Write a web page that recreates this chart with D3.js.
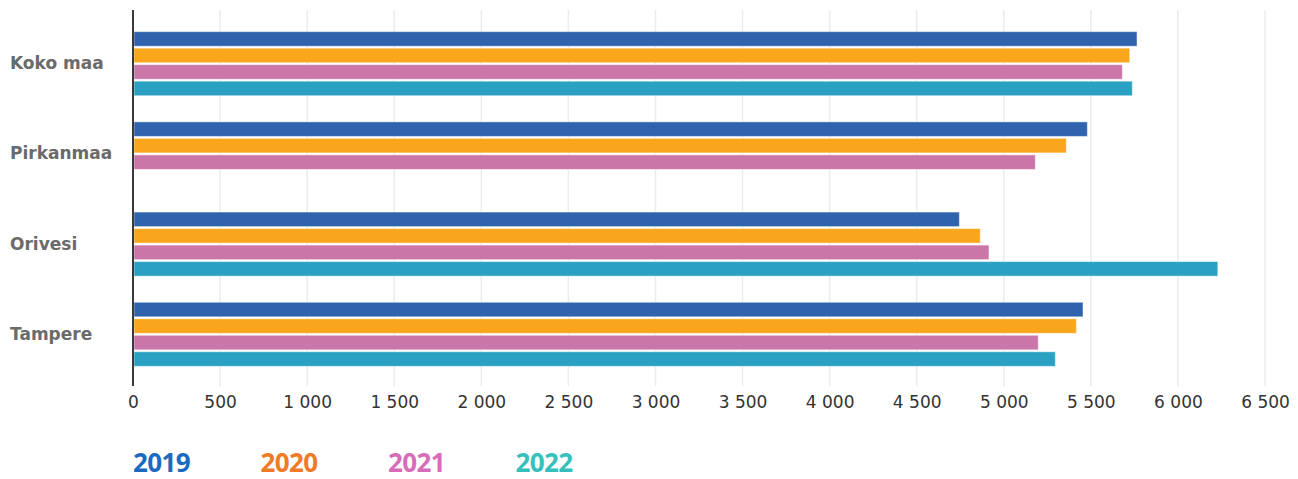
<!DOCTYPE html>
<html>
<head>
<meta charset="utf-8">
<script src="https://cdn.jsdelivr.net/npm/d3@7"></script>
<style>
  body { margin: 0; background: #fff; }
  svg { display: block; }
</style>
</head>
<body>
<div id="chart"></div>
<script>
var width = 1298;
var height = 479;

// data
var categories = ["Koko maa", "Pirkanmaa", "Orivesi", "Tampere"];
var years = ["2019", "2020", "2021", "2022"];
var values2019 = [5765, 5480, 4745, 5455];
var values2020 = [5723, 5359, 4865, 5417];
var values2021 = [5681, 5181, 4915, 5198];
var values2022 = [5738, null, 6229, 5296];
var tickValues = [0, 500, 1000, 1500, 2000, 2500, 3000, 3500, 4000, 4500, 5000, 5500, 6000, 6500];

var series = [values2019, values2020, values2021, values2022];
var barColors = ["#3063ae", "#f9a61c", "#cb76a9", "#2aa1c3"];
var legendColors = ["#1a6bbf", "#ee7a2a", "#d86cb8", "#36c0bb"];

var svg = d3.select("#chart").append("svg")
    .attr("width", width).attr("height", height);

var x = d3.scaleLinear().domain([0, 6500]).range([133, 1265]);

var y = d3.scaleBand()
    .domain(categories)
    .range([18.6, 379.4])
    .paddingInner(0.29)
    .paddingOuter(0.145);

var yInner = d3.scaleBand()
    .domain(years)
    .range([0, y.bandwidth()])
    .paddingInner(0.12);

var locale = d3.formatLocale({ decimal: ",", thousands: " ", grouping: [3], currency: ["", "€"] });
var fmt = locale.format(",d");

// gridlines
svg.append("g").selectAll("line")
    .data(tickValues.slice(1))
    .enter().append("line")
    .attr("x1", d => x(d)).attr("x2", d => x(d))
    .attr("y1", 10).attr("y2", 386)
    .style("stroke", "#ececec")
    .style("stroke-width", 1.5);

// x axis labels
var xAxis = svg.append("g")
    .attr("transform", "translate(0,386)")
    .call(d3.axisBottom(x).tickValues(tickValues).tickFormat(fmt).tickSize(0).tickPadding(10));
xAxis.select(".domain").remove();
xAxis.selectAll("text")
    .style("font-family", "DejaVu Sans")
    .style("font-size", "17px")
    .style("fill", "#333");

// bars
for (let s = 0; s < series.length; s++) {
    svg.append("g").selectAll("rect")
        .data(categories.map((c, i) => ({ cat: c, v: series[s][i] })).filter(d => d.v != null))
        .enter().append("rect")
        .attr("x", x(0) + 1)
        .attr("y", d => y(d.cat) + yInner(years[s]))
        .attr("width", d => x(d.v) - x(0) - 1)
        .attr("height", yInner.bandwidth())
        .attr("fill", barColors[s])
        .attr("stroke", "rgba(255,255,255,0.45)")
        .attr("stroke-width", 1);
}

// y axis line
svg.append("line")
    .attr("x1", 133).attr("x2", 133)
    .attr("y1", 10).attr("y2", 386)
    .style("stroke", "#3a3a3a")
    .style("stroke-width", 2);

// category labels
svg.append("g").selectAll("text")
    .data(categories)
    .enter().append("text")
    .attr("x", 10)
    .attr("y", d => y(d) + y.bandwidth() / 2 + 5.5)
    .style("font-family", "DejaVu Sans")
    .style("font-weight", "bold")
    .style("font-size", "17px")
    .style("fill", "#6a6a6a")
    .text(d => d);

// legend
svg.append("g").selectAll("text")
    .data(years)
    .enter().append("text")
    .attr("x", (d, i) => 133 + i * 127.5)
    .attr("y", 471.5)
    .style("font-family", "Open Sans")
    .style("font-weight", "bold")
    .style("font-size", "26px")
    .style("letter-spacing", "-0.6px")
    .style("fill", (d, i) => legendColors[i])
    .text(d => d);
</script>
</body>
</html>
